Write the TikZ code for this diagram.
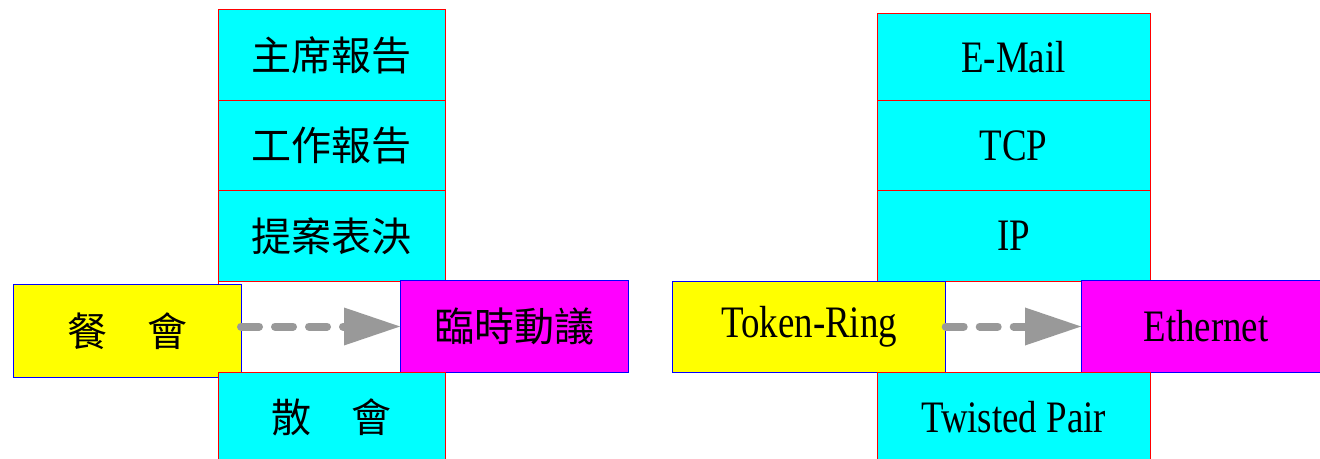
\documentclass[tikz,border=0pt]{standalone}
\usepackage{fontspec}
\usetikzlibrary{positioning,arrows.meta}
\newfontfamily\zhfont{Noto Sans CJK TC}
\newfontfamily\enfont[FakeStretch=0.82]{Liberation Serif}
\definecolor{arrowgray}{RGB}{153,153,153}
\definecolor{layercyan}{RGB}{0,255,255}
\definecolor{sideyellow}{RGB}{255,255,0}
\definecolor{sidemagenta}{RGB}{255,0,255}
\definecolor{edgered}{RGB}{255,0,0}
\definecolor{edgeblue}{RGB}{0,0,255}
\tikzstyle{zh} = [font=\zhfont\fontsize{20}{24}\selectfont]
\tikzstyle{en} = [font=\enfont\fontsize{22.5}{27}\selectfont]
\tikzstyle{layer} = [rectangle, draw=edgered, fill=layercyan, line width=0.5pt, minimum height=45.25pt, inner sep=0pt, outer sep=0pt]
\tikzstyle{leftlayer} = [layer, zh, minimum width=113.5pt]
\tikzstyle{rightlayer} = [layer, en, minimum width=136.5pt]
\tikzstyle{blank} = [fill=white]
\tikzstyle{side} = [rectangle, draw=edgeblue, line width=0.5pt, minimum height=45.5pt, inner sep=0pt, outer sep=0pt]
\tikzstyle{flow} = [draw=arrowgray, line width=4pt, line cap=round, dash pattern=on 9pt off 8pt, -{Triangle[length=28pt,width=19pt,line width=0pt,fill=arrowgray]}]

\begin{document}
\begin{tikzpicture}[x=0.5pt,y=-0.5pt]
    \useasboundingbox (0,0) rectangle (1320,459);

    % meeting agenda
    \node(gapL)[leftlayer, blank] at (331.5,326.75) {};
    \node(vote)[leftlayer, above=0pt of gapL]{提案表決};
    \node(work)[leftlayer, above=0pt of vote]{工作報告};
    \node(chair)[leftlayer, above=0pt of work]{主席報告};

    \node(dinner)[side, zh, fill=sideyellow, minimum width=114pt, minimum height=46pt] at (127,331) {餐　會};
    \node(motion)[side, zh, fill=sidemagenta, minimum width=114pt] at (514,326.5) {臨時動議};
    \node(adjourn)[leftlayer, below=0pt of gapL]{散　會};

    % network layers
    \node(gapR)[rightlayer, blank] at (1013.5,326.75) {};
    \node(ip)[rightlayer, above=0pt of gapR]{IP};
    \node(tcp)[rightlayer, above=0pt of ip]{TCP};
    \node(mail)[rightlayer, above=0pt of tcp, minimum height=43.5pt]{E-Mail};

    \node(token)[side, en, fill=sideyellow, minimum width=136.5pt] at (809.2,327) {Token-Ring};
    \node(ether)[side, en, fill=sidemagenta, minimum width=125pt] at (1206,326.5) {Ethernet};
    \node(twisted)[rightlayer, below=0pt of gapR]{Twisted Pair};

    \draw[flow] (dinner.east |- motion.west) -- (motion.west);
    \draw[flow] (token.east |- ether.west) -- (ether.west);
\end{tikzpicture}
\end{document}
